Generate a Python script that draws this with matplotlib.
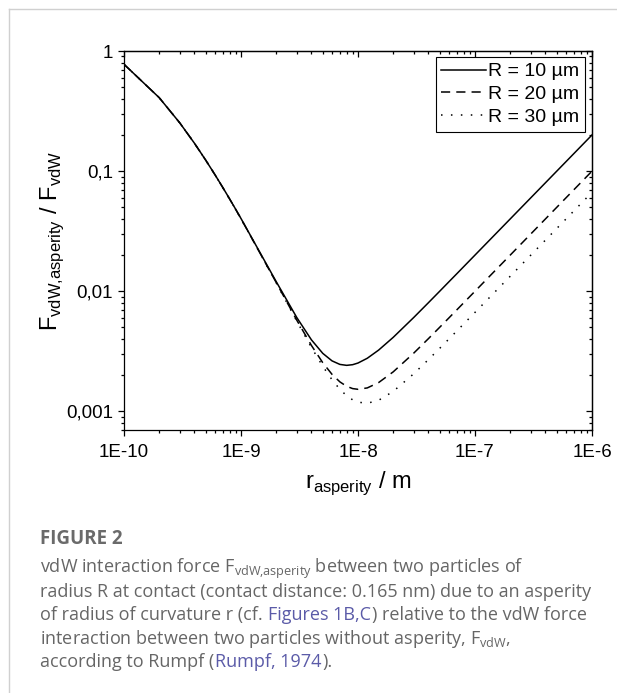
import matplotlib
matplotlib.use("Agg")
import matplotlib.pyplot as plt
from matplotlib.lines import Line2D
from matplotlib.ticker import LogLocator, FixedLocator, NullFormatter

plt.rcParams['font.family'] = ['Liberation Sans', 'DejaVu Sans']
plt.rcParams['mathtext.fontset'] = 'custom'
plt.rcParams['mathtext.rm'] = 'Liberation Sans'
plt.rcParams['mathtext.sf'] = 'Open Sans'

# ---------------- data ----------------
r_asperity = [1e-10, 2e-10, 3e-10, 4e-10, 5e-10, 6e-10, 7e-10, 8e-10, 9e-10,
              1e-9, 2e-9, 3e-9, 4e-9, 5e-9, 6e-9, 7e-9, 8e-9, 9e-9,
              1e-8, 1.2e-8, 1.5e-8, 2e-8, 3e-8, 4e-8, 5e-8, 6e-8, 7e-8, 8e-8, 9e-8,
              1e-7, 2e-7, 3e-7, 4e-7, 5e-7, 6e-7, 7e-7, 8e-7, 9e-7, 1e-6]

ratio_R10 = [0.7754, 0.4087, 0.2519, 0.1707, 0.1232, 0.09316, 0.07291, 0.05863, 0.04819,
             0.04032, 0.01202, 0.006036, 0.003939, 0.003041, 0.002633, 0.002461, 0.002417, 0.002448,
             0.002527, 0.002768, 0.003237, 0.004134, 0.00606, 0.008034, 0.01002, 0.01202, 0.01401, 0.01601, 0.01801,
             0.02001, 0.04, 0.06, 0.08, 0.1, 0.12, 0.14, 0.16, 0.18, 0.2]

ratio_R20 = [0.7754, 0.4087, 0.2518, 0.1706, 0.1232, 0.0931, 0.07284, 0.05855, 0.0481,
             0.04022, 0.01182, 0.005736, 0.003539, 0.002541, 0.002033, 0.001761, 0.001617, 0.001548,
             0.001527, 0.001568, 0.001737, 0.002134, 0.00306, 0.004034, 0.005022, 0.006015, 0.007011, 0.008008, 0.009007,
             0.010005, 0.02, 0.03, 0.04, 0.05, 0.06, 0.07, 0.08, 0.09, 0.1]

ratio_R30 = [0.7754, 0.4087, 0.2518, 0.1706, 0.1231, 0.09308, 0.07282, 0.05852, 0.04807,
             0.04019, 0.01175, 0.005636, 0.003406, 0.002374, 0.001833, 0.001527, 0.00135, 0.001248,
             0.001194, 0.001168, 0.001237, 0.001467, 0.00206, 0.0027, 0.003355, 0.004015, 0.004678, 0.005342, 0.006007,
             0.006672, 0.013335, 0.02, 0.026667, 0.033333, 0.04, 0.046667, 0.053333, 0.06, 0.066667]

series_labels = ["R = 10 µm", "R = 20 µm", "R = 30 µm"]
x_ticks = [1e-10, 1e-9, 1e-8, 1e-7, 1e-6]
x_ticklabels = ["1E-10", "1E-9", "1E-8", "1E-7", "1E-6"]
y_ticks = [0.001, 0.01, 0.1, 1]
y_ticklabels = ["0,001", "0,01", "0,1", "1"]

# ---------------- figure ----------------
W, H = 617, 693
fig = plt.figure(figsize=(W / 100, H / 100), dpi=100)
fig.patch.set_facecolor("white")

L, R_, T, B = 124, 592, 51, 430
ax = fig.add_axes([L / W, 1 - B / H, (R_ - L) / W, (B - T) / H])

lw = 1.1
ax.plot(r_asperity, ratio_R10, color="black", lw=lw, linestyle="-", label=series_labels[0])
ax.plot(r_asperity, ratio_R20, color="black", lw=lw, linestyle=(0, (6, 4)), label=series_labels[1])
ax.plot(r_asperity, ratio_R30, color="black", lw=lw, linestyle=(0, (1, 5.5)), label=series_labels[2])

ax.set_xscale("log")
ax.set_yscale("log")
ax.set_xlim(1e-10, 1e-6)
ax.set_ylim(7e-4, 1.0)

ax.xaxis.set_major_locator(FixedLocator(x_ticks))
ax.set_xticklabels(x_ticklabels)
ax.yaxis.set_major_locator(FixedLocator(y_ticks))
ax.set_yticklabels(y_ticklabels)
ax.xaxis.set_minor_locator(LogLocator(base=10, subs=range(2, 10), numticks=20))
ax.yaxis.set_minor_locator(LogLocator(base=10, subs=range(2, 10), numticks=20))
ax.xaxis.set_minor_formatter(NullFormatter())
ax.yaxis.set_minor_formatter(NullFormatter())

for s in ax.spines.values():
    s.set_linewidth(0.9)

ax.tick_params(axis="both", which="major", length=4.5, width=0.9, labelsize=13.5, color="black")
ax.tick_params(axis="both", which="minor", length=2.5, width=0.9)
ax.tick_params(axis="x", which="both", direction="out", pad=5.5)
ax.tick_params(axis="y", which="both", direction="out", pad=3.5)

# mirrored axes with inward ticks (top / right)
axt = ax.secondary_xaxis("top")
axt.xaxis.set_major_locator(FixedLocator(x_ticks))
axt.xaxis.set_minor_locator(LogLocator(base=10, subs=range(2, 10), numticks=20))
axt.xaxis.set_major_formatter(NullFormatter())
axt.xaxis.set_minor_formatter(NullFormatter())
axt.tick_params(which="major", direction="in", length=4.5, width=0.9)
axt.tick_params(which="minor", direction="in", length=2.5, width=0.9)
axt.spines["top"].set_linewidth(0.9)

axr = ax.secondary_yaxis("right")
axr.yaxis.set_major_locator(FixedLocator(y_ticks))
axr.yaxis.set_minor_locator(LogLocator(base=10, subs=range(2, 10), numticks=20))
axr.yaxis.set_major_formatter(NullFormatter())
axr.yaxis.set_minor_formatter(NullFormatter())
axr.tick_params(which="major", direction="in", length=4.5, width=0.9)
axr.tick_params(which="minor", direction="in", length=2.5, width=0.9)
axr.spines["right"].set_linewidth(0.9)

ax.set_xlabel(r"r$_\mathrm{asperity}$ / m", fontsize=17, labelpad=6)
ax.set_ylabel(r"F$_\mathrm{vdW{,}asperity}$ / F$_\mathrm{vdW}$", fontsize=17)
ax.yaxis.set_label_coords(-0.125, 0.5)

leg = ax.legend(loc="upper right", bbox_to_anchor=(1 - 7 / (R_ - L), 1 - 6 / (B - T)),
                borderaxespad=0, fontsize=14, handlelength=2.3, handletextpad=0.1,
                borderpad=0.3, labelspacing=0.27, frameon=True, fancybox=False,
                edgecolor="black", framealpha=1)
leg.get_frame().set_linewidth(0.8)

# ---------------- card border ----------------
border = "#d0d0d0"
fig.add_artist(Line2D([9 / W, 1], [1 - 9 / H, 1 - 9 / H], color=border, lw=1.0))
fig.add_artist(Line2D([9 / W, 9 / W], [0, 1 - 9 / H], color=border, lw=1.0))

# ---------------- caption ----------------
grey = "#666666"
blue = "#5b5ba8"
cap_font = "Open Sans"
cap_size = 13.0
x0 = 40 / W

fig.text(x0, 1 - 544 / H, "FIGURE 2", family=cap_font, fontweight="bold",
         fontsize=13.5, color="#6a6a6a", va="baseline")

line_y = [573, 597, 620, 644, 667]
renderer = fig.canvas.get_renderer()


def text_width(s):
    t = fig.text(0, 0, s, family=cap_font, fontsize=cap_size)
    w = t.get_window_extent(renderer).width
    t.remove()
    return w


space_w = text_width("a a") - text_width("aa")


def chained(pieces, ypix):
    x = 40.0
    for s, c in pieces:
        fig.text(x / W, 1 - ypix / H, s, family=cap_font, fontsize=cap_size, color=c, va="baseline")
        stripped = s.rstrip(" ")
        x += text_width(stripped) + space_w * (len(s) - len(stripped)) + 0.8


fig.text(x0, 1 - line_y[0] / H, r"vdW interaction force F$_\mathsf{vdW{,}asperity}$ between two particles of",
         family=cap_font, fontsize=cap_size, color=grey, va="baseline")
fig.text(x0, 1 - line_y[1] / H, "radius R at contact (contact distance: 0.165 nm) due to an asperity",
         family=cap_font, fontsize=cap_size, color=grey, va="baseline")
chained([("of radius of curvature r (cf. ", grey), ("Figures 1B,C", blue),
         (") relative to the vdW force", grey)], line_y[2])
fig.text(x0, 1 - line_y[3] / H, r"interaction between two particles without asperity, F$_\mathsf{vdW}$,",
         family=cap_font, fontsize=cap_size, color=grey, va="baseline")
chained([("according to Rumpf (", grey), ("Rumpf, 1974", blue), (").", grey)], line_y[4])

fig.savefig("out.png", dpi=100)
